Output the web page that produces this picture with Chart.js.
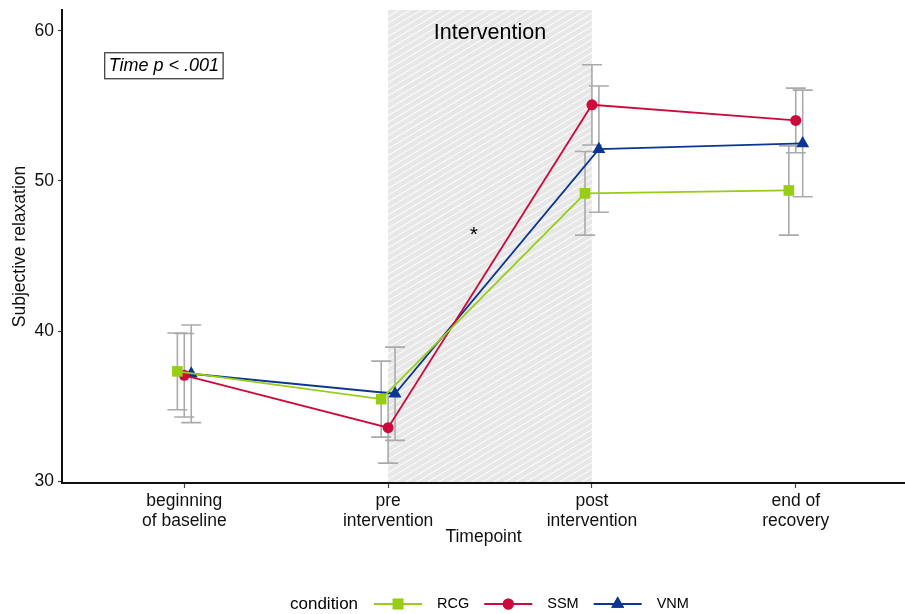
<!DOCTYPE html>
<html>
<head>
<meta charset="utf-8">
<script src="https://cdn.jsdelivr.net/npm/chart.js@4.4.1/dist/chart.umd.min.js"></script>
<style>
    html, body { margin: 0; padding: 0; background: #fff; }
    #wrap { width: 905px; height: 614px; }
</style>
</head>
<body>
<div id="wrap"><canvas id="myChart" width="905" height="614"></canvas></div>
<script>
const timepoints = [1, 2, 3, 4];
const timepointLabels = [['beginning', 'of baseline'], ['pre', 'intervention'], ['post', 'intervention'], ['end of', 'recovery']];
const yTicks = [30, 40, 50, 60];

const rcgMean = [37.33, 35.48, 49.18, 49.37];
const rcgErr = [2.55, 2.53, 2.78, 2.97];
const ssmMean = [37.07, 33.58, 55.07, 54.03];
const ssmErr = [2.78, 2.36, 2.67, 2.15];
const vnmMean = [37.17, 35.84, 52.12, 52.50];
const vnmErr = [3.25, 3.10, 4.20, 3.55];

const FONT = "'Liberation Sans', Arial, Helvetica, sans-serif";
const dodge = 0.034;

const groups = [
    { label: 'RCG', mean: rcgMean, err: rcgErr, color: '#99CC14', style: 'rect', radius: 7.5, shift: -dodge },
    { label: 'SSM', mean: ssmMean, err: ssmErr, color: '#CC0A3C', style: 'circle', radius: 5.5, shift: 0 },
    { label: 'VNM', mean: vnmMean, err: vnmErr, color: '#0C3694', style: 'triangle', radius: 7.5, shift: dodge }
];

// shaded intervention window, error bars and annotations
const decorations = {
    id: 'decorations',
    beforeDraw(chart) {
        const { ctx, chartArea, scales: { x } } = chart;
        const x1 = x.getPixelForValue(2);
        const x2 = x.getPixelForValue(3);
        const top = chartArea.top, bottom = chartArea.bottom;
        ctx.save();
        ctx.beginPath();
        ctx.rect(x1, top, x2 - x1, bottom - top);
        ctx.clip();
        ctx.fillStyle = '#E7E7E7';
        ctx.fillRect(x1, top, x2 - x1, bottom - top);
        ctx.strokeStyle = '#FAFAFA';
        ctx.lineWidth = 1.2;
        const h = bottom - top;
        const run = h / Math.tan(31 * Math.PI / 180);
        for (let t = -run; t < x2 - x1 + 10; t += 11) {
            ctx.beginPath();
            ctx.moveTo(x1 + t, bottom);
            ctx.lineTo(x1 + t + run, top);
            ctx.stroke();
        }
        ctx.restore();
    },
    beforeDatasetsDraw(chart) {
        const { ctx, scales: { x, y } } = chart;
        ctx.save();
        ctx.strokeStyle = '#AAAAAA';
        ctx.lineWidth = 1.6;
        groups.forEach(g => {
            timepoints.forEach((tp, i) => {
                const px = x.getPixelForValue(tp + g.shift);
                const hi = y.getPixelForValue(g.mean[i] + g.err[i]);
                const lo = y.getPixelForValue(g.mean[i] - g.err[i]);
                ctx.beginPath();
                ctx.moveTo(px, hi); ctx.lineTo(px, lo);
                ctx.moveTo(px - 10, hi); ctx.lineTo(px + 10, hi);
                ctx.moveTo(px - 10, lo); ctx.lineTo(px + 10, lo);
                ctx.stroke();
            });
        });
        ctx.restore();
    },
    afterDraw(chart) {
        const { ctx, scales: { x, y } } = chart;
        ctx.save();
        ctx.fillStyle = '#000';
        ctx.textAlign = 'center';
        ctx.textBaseline = 'middle';
        ctx.font = '21.5px ' + FONT;
        ctx.fillText('Intervention', x.getPixelForValue(2.5), y.getPixelForValue(59.87));
        ctx.font = '21px ' + FONT;
        ctx.fillText('*', x.getPixelForValue(2.42), y.getPixelForValue(46.4));

        // Time p < .001 box
        ctx.font = 'italic 18px ' + FONT;
        const label = 'Time p < .001';
        const bx = x.getPixelForValue(0.9), by = y.getPixelForValue(57.67);
        const w = ctx.measureText(label).width;
        ctx.fillText(label, bx, by);
        ctx.strokeStyle = '#333';
        ctx.lineWidth = 1.2;
        ctx.strokeRect(bx - w / 2 - 4, by - 13, w + 8, 26);

        // legend
        let lx = 290;
        const ly = 604;
        ctx.textAlign = 'left';
        ctx.font = '17px ' + FONT;
        ctx.fillText('condition', lx, ly);
        lx += ctx.measureText('condition').width + 16;
        ctx.font = '14.5px ' + FONT;
        groups.forEach(g => {
            ctx.strokeStyle = g.color;
            ctx.lineWidth = 1.8;
            ctx.beginPath();
            ctx.moveTo(lx, ly); ctx.lineTo(lx + 48, ly);
            ctx.stroke();
            ctx.fillStyle = g.color;
            Chart.helpers.drawPoint(ctx, { pointStyle: g.style, radius: g.radius, rotation: 0, borderWidth: 0 }, lx + 24, ly);
            ctx.fill();
            ctx.fillStyle = '#000';
            lx += 48 + 15;
            ctx.fillText(g.label, lx, ly);
            lx += ctx.measureText(g.label).width + 15;
        });
        ctx.restore();
    }
};

const datasets = groups.map(g => ({
    label: g.label,
    data: timepoints.map((tp, i) => ({ x: tp + g.shift, y: g.mean[i] })),
    showLine: true,
    borderColor: g.color,
    backgroundColor: g.color,
    borderWidth: 1.8,
    pointStyle: g.style,
    pointRadius: g.radius,
    pointBorderWidth: 0,
    pointBackgroundColor: g.color
}));

new Chart(document.getElementById('myChart'), {
    type: 'scatter',
    data: { datasets: datasets },
    plugins: [decorations],
    options: {
        responsive: false,
        animation: false,
        layout: { autoPadding: false, padding: { top: 10, right: 0, bottom: 0, left: 0 } },
        plugins: {
            legend: { display: false },
            tooltip: { enabled: false }
        },
        scales: {
            x: {
                type: 'linear',
                min: 0.4,
                max: 4.536,
                afterFit: scale => {
                    scale.height = 131;
                    scale.paddingLeft = 0;
                    scale.paddingRight = 0;
                },
                afterBuildTicks: scale => { scale.ticks = timepoints.map(v => ({ value: v })); },
                ticks: {
                    autoSkip: false,
                    maxRotation: 0,
                    padding: 4,
                    color: '#111',
                    font: { family: FONT, size: 17.5, lineHeight: 1.1 },
                    callback: (value, index) => timepointLabels[index]
                },
                grid: { drawOnChartArea: false, tickLength: 5, tickColor: '#444', tickWidth: 1.2 },
                border: { color: '#111', width: 2 },
                title: {
                    display: true,
                    text: 'Timepoint',
                    color: '#111',
                    font: { family: FONT, size: 17.5, lineHeight: 1.2 },
                    padding: { top: 0, bottom: 66 }
                }
            },
            y: {
                min: 29.9,
                max: 61.38,
                afterFit: scale => {
                    scale.width = 62;
                    scale.paddingTop = 0;
                    scale.paddingBottom = 0;
                },
                afterBuildTicks: scale => { scale.ticks = yTicks.map(v => ({ value: v })); },
                ticks: {
                    padding: 4,
                    color: '#111',
                    font: { family: FONT, size: 17.5 }
                },
                grid: { drawOnChartArea: false, tickLength: 4, tickColor: '#444', tickWidth: 1.2 },
                border: { color: '#111', width: 2 },
                title: {
                    display: true,
                    text: 'Subjective relaxation',
                    color: '#111',
                    font: { family: FONT, size: 17.5, lineHeight: 1.2 },
                    padding: { top: 10, bottom: 0 }
                }
            }
        }
    }
});
</script>
</body>
</html>
